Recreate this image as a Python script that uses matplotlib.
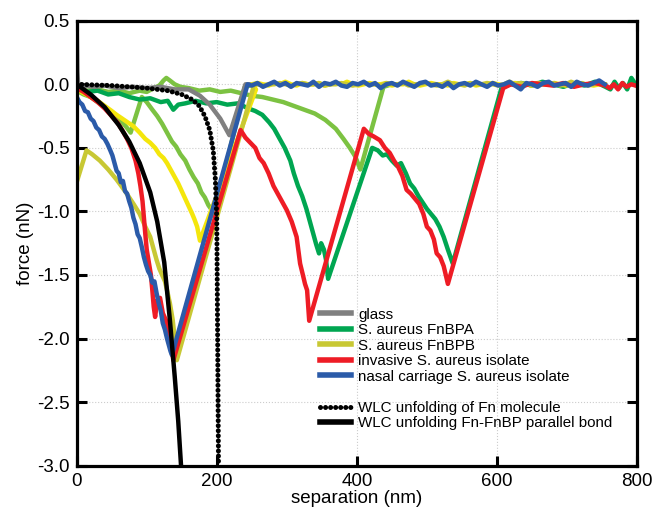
import matplotlib.pyplot as plt
from matplotlib.lines import Line2D

plt.rcParams['font.family'] = ['Liberation Sans', 'DejaVu Sans']
plt.rcParams['axes.unicode_minus'] = False

# ---- data (separation in nm, force in nN) ----
# flat baseline after rupture (sampled every 8 nm)
flatX = list(range(250, 755, 8))
blueFlat = [-0.01, 0.01, -0.02, 0.0, 0.02, -0.01, 0.01, -0.02, 0.01, 0.0, -0.01, 0.02,
            -0.02, 0.01, 0.0, 0.02, -0.01, -0.02, 0.01, 0.0, 0.02, -0.01, 0.01, -0.03,
            0.0, 0.01, -0.01, 0.02, 0.0, -0.02, 0.01, 0.02, -0.01, 0.0, -0.02, 0.01,
            -0.03, 0.0, 0.01, -0.01, 0.02, 0.0, -0.02, 0.01, -0.01, 0.0, 0.02, -0.01,
            -0.04, 0.01, 0.0, -0.02, 0.01, 0.02, -0.01, 0.0, 0.01, -0.02, 0.02, 0.0,
            -0.01, 0.01, 0.03, 0.0]
yellowFlat = [0.0, 0.01, 0.0, -0.01, 0.01, 0.0, 0.02, 0.0, -0.01, 0.01, 0.0, 0.0,
              0.01, -0.01, 0.0, 0.01, 0.0, 0.02, 0.0, -0.01, 0.0, 0.01, 0.0, 0.0,
              0.01, -0.01, 0.0, 0.0, 0.02, 0.0, -0.01, 0.0, 0.01, 0.0, 0.0, -0.01,
              0.01, 0.0, 0.0, 0.01, -0.01, 0.0, 0.0, 0.01, 0.0, -0.01, 0.0, 0.01,
              0.0, 0.0, -0.01, 0.01, 0.0, 0.0, 0.01, 0.0, -0.01, 0.0, 0.01, 0.0,
              0.0, -0.01, 0.0, 0.0]

glassX = [0, 0.5, 1, 2, 10, 25, 40, 60, 80, 100, 120, 140, 160, 176, 190, 205, 218, 241, 255]
glassY = [0.48, 0.3, 0.1, 0.0, -0.01, -0.02, -0.01, -0.03, -0.02, -0.03, -0.02, -0.04,
          -0.04, -0.09, -0.16, -0.27, -0.40, 0.0, 0.0]

# second FnBPA trace (light green), long shallow one
lgAX = [0, 15, 30, 45, 60, 75, 90, 100, 110, 118, 124, 128, 133, 140, 148, 160, 175, 190,
        205, 220, 235, 250, 265, 280, 295, 310, 325, 340, 355, 370, 381, 390, 398, 405, 438, 450]
lgAY = [-0.03, -0.05, -0.04, -0.06, -0.05, -0.07, -0.05, -0.06, -0.03, -0.01, 0.03, 0.05,
        0.03, 0.0, -0.02, -0.03, -0.05, -0.04, -0.06, -0.05, -0.07, -0.09, -0.1, -0.12,
        -0.14, -0.17, -0.2, -0.23, -0.28, -0.35, -0.43, -0.5, -0.57, -0.67, -0.02, 0.0]

# third FnBPA trace (light green), short one
lgBX = [0, 10, 20, 30, 40, 50, 60, 70, 77, 93, 100, 108, 115, 122, 129, 136, 142, 148,
        155, 161, 167, 173, 178, 183, 188, 193, 196, 240, 255]
lgBY = [-0.05, -0.08, -0.1, -0.14, -0.18, -0.22, -0.27, -0.33, -0.38, -0.1, -0.14, -0.2,
        -0.25, -0.31, -0.38, -0.45, -0.49, -0.55, -0.6, -0.67, -0.73, -0.78, -0.85, -0.89,
        -0.95, -0.99, -1.04, -0.02, 0.0]

fnbpaX = [0, 15, 30, 45, 60, 75, 90, 105, 120, 130, 138, 145, 155, 170, 185, 200, 215,
          230, 245, 255, 265, 275, 282, 290, 297, 305, 310, 316, 322, 328, 333, 338, 342,
          346, 349, 353, 356, 359, 422, 430, 437, 443, 450, 457, 463, 470, 476, 482, 488,
          494, 500, 506, 512, 518, 524, 530, 537, 607, 620, 635, 650, 665, 680, 695, 710,
          725, 740, 755, 762, 768, 774, 780, 786, 792, 798]
fnbpaY = [-0.03, -0.06, -0.05, -0.08, -0.07, -0.1, -0.12, -0.11, -0.14, -0.13, -0.2,
          -0.16, -0.15, -0.13, -0.15, -0.14, -0.16, -0.15, -0.19, -0.21, -0.24, -0.3,
          -0.35, -0.43, -0.5, -0.6, -0.7, -0.8, -0.88, -0.98, -1.08, -1.18, -1.26, -1.33,
          -1.25, -1.3, -1.38, -1.53, -0.5, -0.52, -0.56, -0.55, -0.6, -0.64, -0.62, -0.7,
          -0.78, -0.82, -0.88, -0.93, -0.98, -1.02, -1.06, -1.12, -1.2, -1.3, -1.41, -0.02,
          0.0, 0.01, -0.01, 0.02, 0.0, -0.02, 0.01, -0.01, 0.02, -0.02, -0.04, 0.02, -0.03,
          0.01, -0.04, 0.05, 0.0]

fnbpbX = [0, 14, 22, 33, 45, 57, 69, 81, 90, 98, 105, 110, 114, 118, 122, 126, 129, 133,
          137, 140, 143, 252]
fnbpbY = [-0.77, -0.52, -0.55, -0.6, -0.67, -0.75, -0.84, -0.94, -1.02, -1.12, -1.2, -1.3,
          -1.38, -1.45, -1.5, -1.55, -1.62, -1.72, -1.85, -2.0, -2.17, -0.03]

yellowX = [0, 10, 20, 30, 40, 50, 57, 65, 73, 81, 90, 98, 105, 112, 118, 124, 129, 135,
           140, 145, 150, 155, 160, 165, 168, 172, 176, 256]
yellowY = [-0.04, -0.07, -0.1, -0.13, -0.17, -0.21, -0.24, -0.27, -0.3, -0.33, -0.38,
           -0.43, -0.46, -0.5, -0.55, -0.58, -0.62, -0.68, -0.73, -0.78, -0.84, -0.9,
           -0.96, -1.02, -1.06, -1.12, -1.23, -0.04]

invasiveX = [0, 10, 20, 30, 40, 50, 58, 65, 72, 78, 84, 88, 91, 94, 96, 98, 100, 103, 106,
             108, 110, 112, 115, 119, 123, 127, 131, 135, 138, 234, 241, 248, 255, 261,
             267, 274, 281, 287, 294, 300, 307, 314, 319, 323, 326, 329, 332, 410, 417,
             424, 433, 440, 447, 453, 459, 465, 471, 477, 483, 489, 495, 500, 505, 510,
             514, 519, 524, 530, 609, 620, 635, 650, 665, 680, 695, 710, 725, 740, 755,
             761, 767, 773, 779, 785, 792, 798]
invasiveY = [-0.03, -0.06, -0.1, -0.14, -0.19, -0.25, -0.3, -0.36, -0.43, -0.5, -0.6,
             -0.7, -0.8, -0.92, -1.05, -1.18, -1.3, -1.4, -1.5, -1.62, -1.75, -1.83, -1.7,
             -1.68, -1.8, -1.85, -1.95, -2.05, -2.17, -0.36, -0.42, -0.46, -0.5, -0.58,
             -0.62, -0.7, -0.8, -0.86, -0.93, -0.99, -1.08, -1.2, -1.41, -1.5, -1.57,
             -1.62, -1.86, -0.35, -0.39, -0.41, -0.44, -0.5, -0.54, -0.6, -0.65, -0.72,
             -0.83, -0.86, -0.9, -0.94, -1.02, -1.12, -1.15, -1.22, -1.33, -1.36, -1.43,
             -1.57, -0.03, 0.0, -0.02, 0.01, 0.0, -0.01, 0.01, -0.02, 0.0, 0.01, -0.01,
             -0.03, 0.0, -0.04, 0.01, -0.02, 0.0, -0.01]

nasalX = [0, 4, 8, 12, 16, 20, 24, 28, 32, 36, 40, 44, 48, 51, 54, 57, 60, 63, 66, 69,
          72, 75, 78, 81, 84, 87, 90, 93, 96, 99, 102, 105, 108, 111, 114, 117, 120, 123,
          126, 129, 132, 134, 136, 244]
nasalY = [-0.1, -0.14, -0.16, -0.21, -0.22, -0.27, -0.29, -0.34, -0.36, -0.41, -0.43,
          -0.47, -0.52, -0.56, -0.62, -0.68, -0.7, -0.77, -0.76, -0.84, -0.86, -0.92,
          -0.97, -1.05, -1.1, -1.18, -1.21, -1.28, -1.36, -1.42, -1.47, -1.5, -1.56,
          -1.55, -1.64, -1.72, -1.78, -1.88, -1.93, -2.0, -2.06, -2.1, -2.13, 0.0]

wlcFnX = [0, 50, 100, 130, 150, 165, 175, 183, 190, 195, 198, 200, 201, 202, 202.5]
wlcFnY = [0.0, -0.01, -0.03, -0.05, -0.08, -0.12, -0.17, -0.25, -0.36, -0.52, -0.75,
          -1.05, -1.8, -2.6, -3.0]

wlcBondX = [0, 20, 40, 60, 75, 90, 105, 115, 125, 133, 140, 145, 149]
wlcBondY = [0.0, -0.08, -0.18, -0.32, -0.45, -0.62, -0.85, -1.08, -1.40, -1.85, -2.3,
            -2.65, -3.0]

labels = ['glass', 'S. aureus FnBPA', 'S. aureus FnBPB', 'invasive S. aureus isolate',
          'nasal carriage S. aureus isolate', '', 'WLC unfolding of Fn molecule',
          'WLC unfolding Fn-FnBP parallel bond']

gray = '#808080'
green = '#00a651'
lightGreen = '#7cc242'
olive = '#c8c834'
yellow = '#f4e60c'
red = '#ee1c25'
blue = '#2b5ba9'

fig = plt.figure(figsize=(6.56, 5.13), dpi=100)
ax = fig.add_axes([0.1169, 0.0922, 0.8541, 0.8674])

lw = 3.2
dotted = (0, (0.01, 1.0))
ax.plot(lgAX, lgAY, color=lightGreen, lw=lw, zorder=2)
ax.plot(lgBX, lgBY, color=lightGreen, lw=lw, zorder=2)
ax.plot(fnbpaX, fnbpaY, color=green, lw=lw, zorder=2.5)
ax.plot(glassX, glassY, color=gray, lw=lw, zorder=3)
ax.plot(yellowX + flatX, yellowY + yellowFlat, color=yellow, lw=lw, zorder=3.2)
ax.plot(fnbpbX + flatX, fnbpbY + yellowFlat[::-1], color=olive, lw=lw, zorder=3.3)
ax.plot(invasiveX, invasiveY, color=red, lw=lw, zorder=3.5)
ax.plot(nasalX + flatX, nasalY + blueFlat, color=blue, lw=lw, zorder=3.6)
ax.plot(wlcFnX, wlcFnY, color='black', lw=3.6, ls=dotted,
        dash_capstyle='round', zorder=4)
ax.plot(wlcBondX, wlcBondY, color='black', lw=3.2, zorder=4.1)

ax.set_xlim(0, 800)
ax.set_ylim(-3.0, 0.5)
ax.set_xticks([0, 200, 400, 600, 800])
yt = [0.5, 0.0, -0.5, -1.0, -1.5, -2.0, -2.5, -3.0]
ax.set_yticks(yt)
ax.set_yticklabels(['%.1f' % v for v in yt])
ax.tick_params(direction='in', length=7, width=2.2, top=True, right=True,
               labelsize=13.5, pad=5)
ax.grid(True, color='#cccccc', ls=':', lw=0.8)
ax.set_axisbelow(True)
for s in ax.spines.values():
    s.set_linewidth(2.3)
    s.set_zorder(5)

ax.set_xlabel('separation (nm)', fontsize=13.5, labelpad=0)
ax.set_ylabel('force (nN)', fontsize=13.5, labelpad=2)

handles = [Line2D([], [], color=gray, lw=4),
           Line2D([], [], color=green, lw=4),
           Line2D([], [], color=olive, lw=4),
           Line2D([], [], color=red, lw=4),
           Line2D([], [], color=blue, lw=4),
           Line2D([], [], color='none', lw=0),
           Line2D([], [], color='black', lw=3.6, ls=dotted, dash_capstyle='round'),
           Line2D([], [], color='black', lw=4)]
ax.legend(handles, labels, loc='upper left', bbox_to_anchor=(0.435, 0.355),
          frameon=False, fontsize=10.9, handlelength=2.0, handletextpad=0.5,
          labelspacing=0.1, borderpad=0, borderaxespad=0)

fig.savefig('out.png', dpi=100)
